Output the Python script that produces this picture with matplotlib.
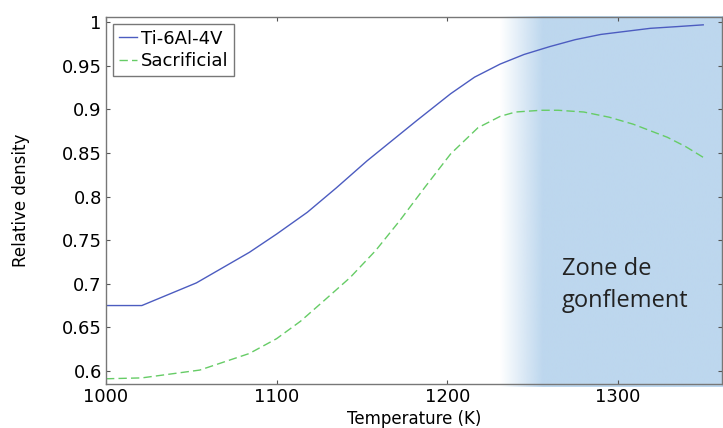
import numpy as np
import matplotlib
matplotlib.use("Agg")
import matplotlib.pyplot as plt
from matplotlib.colors import to_rgb

# data
temp_ti = [1000, 1021, 1053, 1084, 1100, 1118, 1135, 1153, 1182, 1202, 1216,
           1231, 1245, 1260, 1275, 1290, 1319, 1335, 1350]
rho_ti = [0.675, 0.675, 0.701, 0.736, 0.757, 0.782, 0.810, 0.841, 0.887,
          0.918, 0.937, 0.952, 0.963, 0.972, 0.980, 0.986, 0.993, 0.995,
          0.997]
temp_sac = [1000, 1021, 1055, 1084, 1100, 1114, 1128, 1143, 1158, 1172, 1187,
            1202, 1218, 1231, 1240, 1255, 1265, 1280, 1295, 1309, 1329, 1340,
            1350]
rho_sac = [0.591, 0.592, 0.601, 0.620, 0.637, 0.657, 0.681, 0.707, 0.738,
           0.772, 0.811, 0.849, 0.879, 0.892, 0.897, 0.899, 0.899, 0.897,
           0.891, 0.883, 0.868, 0.857, 0.845]
xticks = [1000, 1100, 1200, 1300]
yticks = [0.6, 0.65, 0.7, 0.75, 0.8, 0.85, 0.9, 0.95, 1.0]
ytick_labels = ["0.6", "0.65", "0.7", "0.75", "0.8", "0.85", "0.9", "0.95", "1"]
zone_start, zone_full, zone_end = 1231, 1256, 1365

fig = plt.figure(figsize=(7.23, 4.28), dpi=100)
ax = fig.add_axes([0.1466, 0.1028, 0.8520, 0.8575])

xlim = (1000, 1361)
ylim = (0.585, 1.006)

# shaded swelling zone with a soft left edge
n = 400
xs = np.linspace(zone_start, zone_end, n)
alpha = np.clip((xs - zone_start) / (zone_full - zone_start), 0, 1)
rgba = np.zeros((1, n, 4))
rgba[0, :, :3] = to_rgb("#bdd7ee")
rgba[0, :, 3] = alpha
ax.imshow(rgba, extent=(zone_start, zone_end, 0.581, ylim[1]), aspect="auto",
          zorder=0, interpolation="bilinear", clip_on=False)

ax.plot(temp_ti, rho_ti, color="#4c5cc0", lw=1.0, label="Ti-6Al-4V")
ax.plot(temp_sac, rho_sac, color="#66cc66", lw=1.0, ls=(0, (6, 3)),
        label="Sacrificial")

ax.set_xlim(xlim)
ax.set_ylim(ylim)
ax.set_xticks(xticks)
ax.set_yticks(yticks)
ax.set_yticklabels(ytick_labels)
ax.tick_params(direction="in", length=3, width=0.8, color="#555555",
               labelsize=13, top=True, right=True, pad=3)
for s in ax.spines.values():
    s.set_color("#777777")
    s.set_linewidth(1.0)

ax.set_xlabel("Temperature (K)", fontsize=12, labelpad=3)
ax.set_ylabel("Relative density", fontsize=12, labelpad=23)

leg = ax.legend(loc="upper left", fontsize=13, handlelength=1.0,
                handletextpad=0.25, borderpad=0.3, borderaxespad=0.4,
                labelspacing=0.25, fancybox=False, framealpha=1,
                edgecolor="#777777")
leg.get_frame().set_linewidth(1.0)

ax.text(1267, 0.699, "Zone de\ngonflement", fontsize=17, family="Open Sans",
        color="#222222", va="center", ha="left", linespacing=1.45)

fig.savefig("out.png", dpi=100)
